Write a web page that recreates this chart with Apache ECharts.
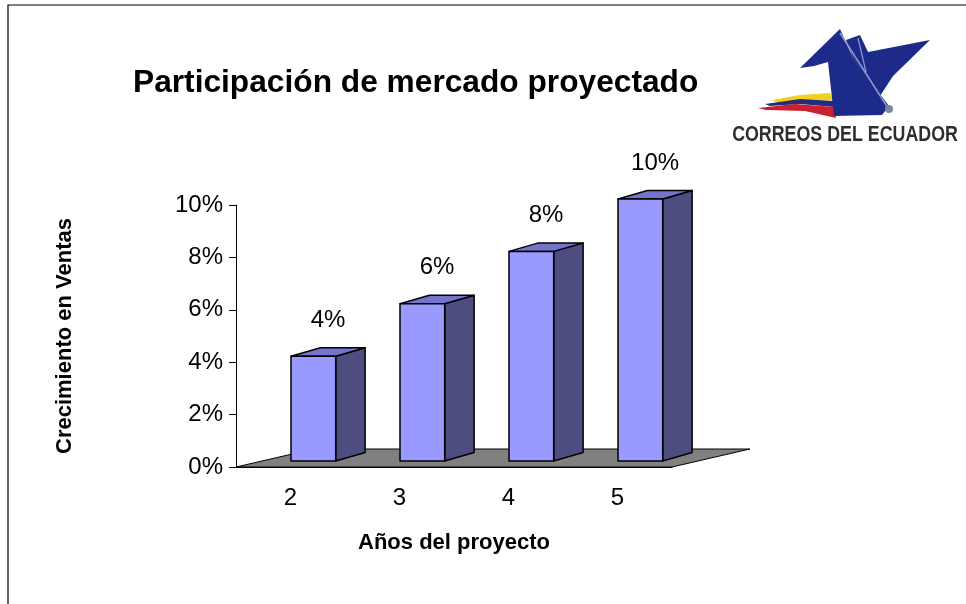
<!DOCTYPE html>
<html>
<head>
<meta charset="utf-8">
<script src="https://cdn.jsdelivr.net/npm/echarts@6/dist/echarts.min.js"></script>
<style>
  html, body { margin: 0; padding: 0; background: #fff; }
  #chart { width: 966px; height: 604px; }
</style>
</head>
<body>
<div id="chart"></div>
<script>
// años del proyecto y crecimiento (%)
const years = ["2", "3", "4", "5"];
const growth = [4, 6, 8, 10];
const yTicks = [0, 2, 4, 6, 8, 10];

const FONT = "'Liberation Sans', Arial, sans-serif";

const chart = echarts.init(document.getElementById("chart"));

// piso gris del gráfico 3D
function renderFloor(params, api) {
  const cs = params.coordSys;
  const band = api.size([1, 0])[0];
  const dx = band * 0.715, dy = -18;
  const yb = cs.y + cs.height;
  return {
    type: "polygon",
    shape: {
      points: [
        [cs.x, yb], [cs.x + cs.width, yb],
        [cs.x + cs.width + dx, yb + dy], [cs.x + dx, yb + dy]
      ]
    },
    style: { fill: "#808080", stroke: "#000", lineWidth: 1 }
  };
}

// barras tipo cubo (cara frontal, lateral y superior)
function renderBar(params, api) {
  const idx = api.value(0);
  const val = api.value(1);
  const base = api.coord([idx, 0]);
  const top = api.coord([idx, val]);
  const band = api.size([1, 0])[0];
  const fw = band * 0.41;
  const dx = band * 0.27, dy = -8.5;
  const x1 = base[0] + 0.5, x2 = x1 + fw;
  const yb = base[1] - 6, yt = top[1] - 6;
  const st = { stroke: "#000", lineWidth: 1.5, lineJoin: "round" };
  return {
    type: "group",
    children: [
      {
        type: "polygon",
        shape: { points: [[x2, yb], [x2 + dx, yb + dy], [x2 + dx, yt + dy], [x2, yt]] },
        style: Object.assign({ fill: "#4d4d80" }, st)
      },
      {
        type: "polygon",
        shape: { points: [[x1, yt], [x1 + dx, yt + dy], [x2 + dx, yt + dy], [x2, yt]] },
        style: Object.assign({ fill: "#7474cc" }, st)
      },
      {
        type: "rect",
        shape: { x: x1, y: yt, width: fw, height: yb - yt },
        style: Object.assign({ fill: "#9999ff" }, st)
      },
      {
        type: "text",
        style: {
          x: x1 + (fw + dx) / 2, y: yt - 36,
          text: val + "%",
          align: "center", verticalAlign: "middle",
          font: "24px " + FONT, fill: "#000"
        }
      }
    ]
  };
}

// logo de Correos del Ecuador
const logo = [
  {
    type: "polygon",
    shape: { points: [[772, 100], [800, 95], [830, 93], [834, 100], [805, 101], [778, 103]] },
    style: { fill: "#f0d020" }
  },
  {
    type: "polygon",
    shape: { points: [[765, 104], [800, 99], [834, 101], [834, 107], [800, 104], [770, 106]] },
    style: { fill: "#2a2a7a" }
  },
  {
    type: "polygon",
    shape: { points: [[758, 108], [795, 104], [834, 107], [836, 118], [805, 111], [766, 110]] },
    style: { fill: "#cc2030" }
  },
  {
    type: "polygon",
    shape: { points: [[800, 68], [840, 29], [853, 58], [889, 106], [882, 115], [834, 116], [828, 62], [814, 66]] },
    style: { fill: "#1c2a8a" }
  },
  {
    type: "polygon",
    shape: { points: [[846, 40], [860, 35], [868, 52], [930, 40], [893, 76], [880, 96], [853, 58]] },
    style: { fill: "#1c2a8a" }
  },
  {
    type: "polyline",
    shape: { points: [[840, 33], [888, 108]] },
    style: { stroke: "#8f9ad0", lineWidth: 1.5 }
  },
  {
    type: "polyline",
    shape: { points: [[858, 38], [866, 72]] },
    style: { stroke: "#8f9ad0", lineWidth: 1.2 }
  },
  {
    type: "circle",
    shape: { cx: 889, cy: 109, r: 4 },
    style: { fill: "#80869f" }
  },
  {
    type: "text",
    x: 845,
    y: 135,
    scaleX: 0.81,
    style: {
      x: 0, y: 0, text: "CORREOS DEL ECUADOR",
      align: "center", verticalAlign: "middle",
      font: "bold 22px " + FONT,
      fill: "#2e2e2e"
    }
  }
];

const option = {
  backgroundColor: "#fff",
  animation: false,
  title: {
    text: "Participación de mercado proyectado",
    left: 128,
    top: 62,
    textStyle: { fontSize: 31.7, fontWeight: "bold", color: "#000", fontFamily: FONT }
  },
  grid: { left: 236, right: 294, top: 205, bottom: 137 },
  xAxis: {
    type: "category",
    data: years,
    name: "Años del proyecto",
    nameLocation: "middle",
    nameGap: 65,
    nameTextStyle: { fontSize: 22, fontWeight: "bold", color: "#000", fontFamily: FONT },
    axisLine: { lineStyle: { color: "#000", width: 1 } },
    axisTick: { length: 7, lineStyle: { color: "#000" } },
    axisLabel: { fontSize: 24, color: "#000", fontFamily: FONT, margin: 19 },
    z: 5
  },
  yAxis: {
    type: "value",
    min: yTicks[0],
    max: yTicks[yTicks.length - 1],
    interval: 2,
    name: "Crecimiento en Ventas",
    nameLocation: "middle",
    nameRotate: 90,
    nameGap: 160,
    nameTextStyle: { fontSize: 22, fontWeight: "bold", color: "#000", fontFamily: FONT },
    axisLine: { show: true, lineStyle: { color: "#000", width: 1 } },
    axisTick: { show: true, length: 7, lineStyle: { color: "#000" } },
    axisLabel: { fontSize: 24, color: "#000", fontFamily: FONT, margin: 13, formatter: "{value}%" },
    splitLine: { show: false }
  },
  series: [
    {
      name: "piso",
      type: "custom",
      renderItem: renderFloor,
      data: [[0, 0]],
      silent: true,
      z: 1
    },
    {
      name: "Crecimiento",
      type: "custom",
      renderItem: renderBar,
      data: years.map((y, i) => [i, growth[i]]),
      encode: { x: 0, y: 1 },
      z: 3
    }
  ],
  graphic: [
    {
      type: "rect",
      shape: { x: 8, y: 5, width: 1000, height: 700 },
      style: { fill: "none", stroke: "#000", lineWidth: 1.2 },
      silent: true
    }
  ].concat(logo)
};

chart.setOption(option);
window.addEventListener("resize", () => chart.resize());
</script>
</body>
</html>
